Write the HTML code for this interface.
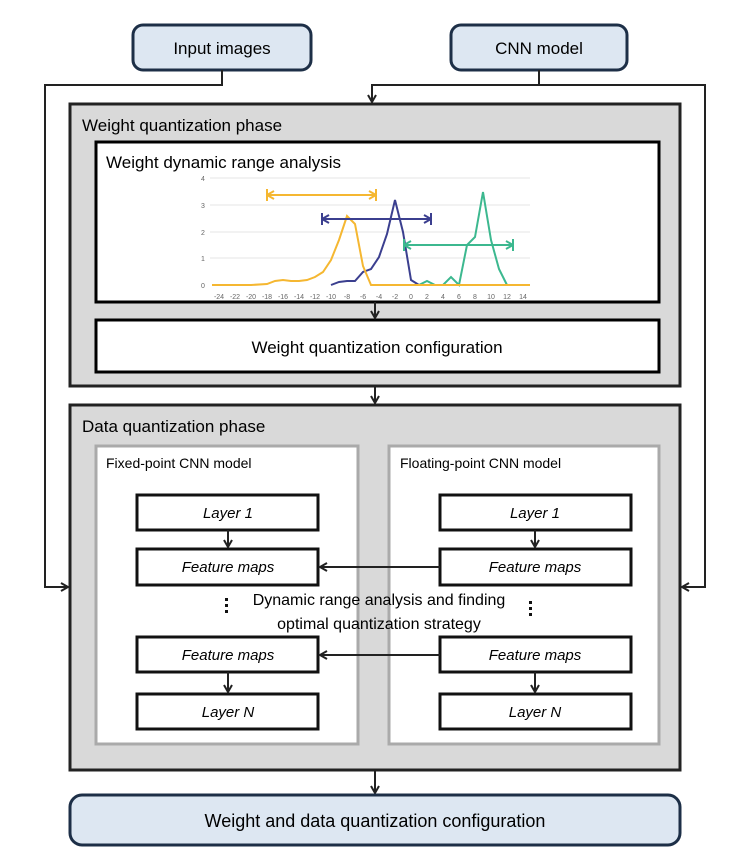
<!DOCTYPE html>
<html><head><style>body{margin:0;background:#fff}svg{display:block}text{font-family:"Liberation Sans",sans-serif}</style></head><body>
<svg width="736" height="866" viewBox="0 0 736 866" xmlns="http://www.w3.org/2000/svg">
<defs><marker id="a" markerWidth="10" markerHeight="10" refX="8" refY="5" orient="auto" markerUnits="userSpaceOnUse"><path d="M1,1 L8,5 L1,9" fill="none" stroke="#222" stroke-width="2"/></marker></defs>
<rect x="133" y="25" width="178" height="45" rx="10" fill="#dde7f2" stroke="#1d2f47" stroke-width="3"/>
<text x="222" y="54" font-size="17" text-anchor="middle">Input images</text>
<rect x="451" y="25" width="176" height="45" rx="10" fill="#dde7f2" stroke="#1d2f47" stroke-width="3"/>
<text x="539" y="54" font-size="17" text-anchor="middle">CNN model</text>
<g stroke="#222" stroke-width="2" fill="none">
<path d="M222 70 V85 H45 V587 H68" marker-end="url(#a)"/>
<path d="M539 70 V85 H372 V102" marker-end="url(#a)"/>
<path d="M539 85 H705 V587 H682" marker-end="url(#a)"/>
</g>
<rect x="70" y="104" width="610" height="282" fill="#d9d9d9" stroke="#222" stroke-width="3"/>
<text x="82" y="131" font-size="17">Weight quantization phase</text>
<rect x="96" y="142" width="563" height="160" fill="#fff" stroke="#000" stroke-width="3"/>
<text x="106" y="168" font-size="17">Weight dynamic range analysis</text>
<g stroke="#e6e6e6" stroke-width="1"><line x1="210" y1="178" x2="530" y2="178"/><line x1="210" y1="205" x2="530" y2="205"/><line x1="210" y1="232" x2="530" y2="232"/><line x1="210" y1="258" x2="530" y2="258"/></g>
<g font-size="7" fill="#666" text-anchor="middle"><text x="203" y="181">4</text><text x="203" y="208">3</text><text x="203" y="235">2</text><text x="203" y="261">1</text><text x="203" y="288">0</text>
<text x="219" y="299">-24</text><text x="235" y="299">-22</text><text x="251" y="299">-20</text><text x="267" y="299">-18</text><text x="283" y="299">-16</text><text x="299" y="299">-14</text><text x="315" y="299">-12</text><text x="331" y="299">-10</text><text x="347" y="299">-8</text><text x="363" y="299">-6</text><text x="379" y="299">-4</text><text x="395" y="299">-2</text><text x="411" y="299">0</text><text x="427" y="299">2</text><text x="443" y="299">4</text><text x="459" y="299">6</text><text x="475" y="299">8</text><text x="491" y="299">10</text><text x="507" y="299">12</text><text x="523" y="299">14</text></g>
<g fill="none" stroke-width="2">
<polyline stroke="#3cb88f" points="419,285 427,281 435,285 443,285 451,277 459,285 467,245 475,237 483,192 491,240 499,269 507,285"/>
<polyline stroke="#3b3f8f" points="331,285 339,282 347,281 355,281 363,272 371,269 379,257 387,234 395,200 403,232 411,280 419,285"/>
<polyline stroke="#f5b731" points="212,285 251,285 267,284 275,281 283,280 291,281 299,281 307,280 315,277 323,272 331,260 339,240 347,216 355,224 363,266 371,285 530,285"/>
<path stroke="#f5b731" d="M267 195 H376 M267 189 V201 M376 189 V201 M267 195 l7 -4 M267 195 l7 4 M376 195 l-7 -4 M376 195 l-7 4"/>
<path stroke="#3b3f8f" d="M322 219 H431 M322 213 V225 M431 213 V225 M322 219 l7 -4 M322 219 l7 4 M431 219 l-7 -4 M431 219 l-7 4"/>
<path stroke="#3cb88f" d="M404 245 H513 M404 239 V251 M513 239 V251 M404 245 l7 -4 M404 245 l7 4 M513 245 l-7 -4 M513 245 l-7 4"/>
</g>
<rect x="96" y="320" width="563" height="52" fill="#fff" stroke="#000" stroke-width="3"/>
<text x="377" y="353" font-size="17" text-anchor="middle">Weight quantization configuration</text>
<rect x="70" y="405" width="610" height="365" fill="#d9d9d9" stroke="#222" stroke-width="3"/>
<text x="82" y="432" font-size="17">Data quantization phase</text>
<rect x="96" y="446" width="262" height="298" fill="#fff" stroke="#aaa" stroke-width="3"/>
<rect x="389" y="446" width="270" height="298" fill="#fff" stroke="#aaa" stroke-width="3"/>
<text x="106" y="468" font-size="14">Fixed-point CNN model</text>
<text x="400" y="468" font-size="14">Floating-point CNN model</text>
<g fill="#fff" stroke="#111" stroke-width="3">
<rect x="137" y="495" width="181" height="35"/><rect x="137" y="549" width="181" height="36"/><rect x="137" y="637" width="181" height="35"/><rect x="137" y="694" width="181" height="35"/>
<rect x="440" y="495" width="191" height="35"/><rect x="440" y="549" width="191" height="36"/><rect x="440" y="637" width="191" height="35"/><rect x="440" y="694" width="191" height="35"/>
</g>
<g font-size="15" font-style="italic" text-anchor="middle">
<text x="228" y="518">Layer 1</text><text x="228" y="572">Feature maps</text><text x="228" y="660">Feature maps</text><text x="228" y="717">Layer N</text>
<text x="535" y="518">Layer 1</text><text x="535" y="572">Feature maps</text><text x="535" y="660">Feature maps</text><text x="535" y="717">Layer N</text>
</g>
<g stroke="#222" stroke-width="2" fill="none">
<path d="M228 530 V547" marker-end="url(#a)"/><path d="M535 530 V547" marker-end="url(#a)"/>
<path d="M228 672 V692" marker-end="url(#a)"/><path d="M535 672 V692" marker-end="url(#a)"/>
<path d="M440 567 H320" marker-end="url(#a)"/><path d="M440 655 H320" marker-end="url(#a)"/>
<path d="M375 302 V318" marker-end="url(#a)"/><path d="M375 386 V403" marker-end="url(#a)"/><path d="M375 770 V793" marker-end="url(#a)"/>
</g>
<g font-size="16" text-anchor="middle"><text x="379" y="605">Dynamic range  analysis and finding</text><text x="379" y="629">optimal quantization strategy</text></g>
<g fill="#111">
<rect x="225" y="598" width="3" height="3"/><rect x="225" y="604" width="3" height="3"/><rect x="225" y="610" width="3" height="3"/>
<rect x="529" y="601" width="3" height="3"/><rect x="529" y="607" width="3" height="3"/><rect x="529" y="613" width="3" height="3"/></g>
<rect x="70" y="795" width="610" height="50" rx="12" fill="#dde7f2" stroke="#1d2f47" stroke-width="3"/>
<text x="375" y="827" font-size="18" text-anchor="middle">Weight and data quantization configuration</text>
</svg>
</body></html>
